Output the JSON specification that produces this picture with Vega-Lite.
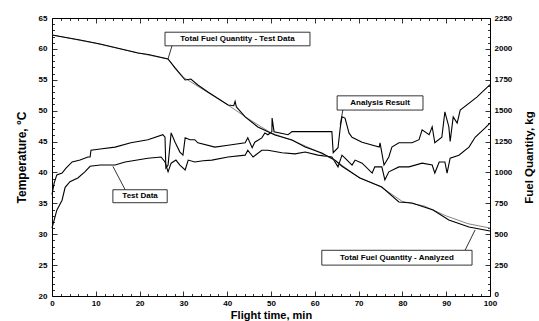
{
  "$schema": "https://vega.github.io/schema/vega-lite/v6.json",
  "width": 438,
  "height": 278,
  "autosize": "none",
  "padding": {"left": 52, "top": 18, "right": 49, "bottom": 25},
  "background": "white",
  "config": {
    "view": {"stroke": "black", "strokeWidth": 1},
    "axis": {
      "domain": false,
      "grid": false,
      "tickColor": "black",
      "tickWidth": 0.8,
      "labelColor": "black",
      "titleColor": "black",
      "labelFont": "Liberation Sans",
      "titleFont": "Liberation Sans",
      "labelFontWeight": "bold",
      "titleFontWeight": "bold",
      "labelFontSize": 8,
      "titleFontSize": 12,
      "labelOverlap": false,
      "labelFlush": false
    }
  },
  "datasets": {
    "temp": [
      {"series": "Test Data", "t": 0, "v": 31.0}, {"series": "Test Data", "t": 1.1, "v": 33.9}, {"series": "Test Data", "t": 2.3, "v": 35.5}, {"series": "Test Data", "t": 3.0, "v": 37.6}, {"series": "Test Data", "t": 4.1, "v": 38.5}, {"series": "Test Data", "t": 5.9, "v": 39.1}, {"series": "Test Data", "t": 7.5, "v": 40.1}, {"series": "Test Data", "t": 8.7, "v": 41.0}, {"series": "Test Data", "t": 11.0, "v": 41.2}, {"series": "Test Data", "t": 14.4, "v": 41.2}, {"series": "Test Data", "t": 16.7, "v": 41.7}, {"series": "Test Data", "t": 21.9, "v": 42.3}, {"series": "Test Data", "t": 24.9, "v": 42.5}, {"series": "Test Data", "t": 25.8, "v": 41.7}, {"series": "Test Data", "t": 26.5, "v": 40.1}, {"series": "Test Data", "t": 27.2, "v": 41.5}, {"series": "Test Data", "t": 28.3, "v": 42.0}, {"series": "Test Data", "t": 29.2, "v": 41.2}, {"series": "Test Data", "t": 30.4, "v": 40.4}, {"series": "Test Data", "t": 31.1, "v": 42.0}, {"series": "Test Data", "t": 32.6, "v": 41.7}, {"series": "Test Data", "t": 34.5, "v": 41.9}, {"series": "Test Data", "t": 36.5, "v": 42.0}, {"series": "Test Data", "t": 40.2, "v": 42.5}, {"series": "Test Data", "t": 44.1, "v": 42.8}, {"series": "Test Data", "t": 44.7, "v": 43.6}, {"series": "Test Data", "t": 45.9, "v": 42.5}, {"series": "Test Data", "t": 47.9, "v": 43.6}, {"series": "Test Data", "t": 49.3, "v": 43.6}, {"series": "Test Data", "t": 52.5, "v": 43.2}, {"series": "Test Data", "t": 55.5, "v": 43.0}, {"series": "Test Data", "t": 57.8, "v": 43.3}, {"series": "Test Data", "t": 60.7, "v": 42.8}, {"series": "Test Data", "t": 63.9, "v": 42.5}, {"series": "Test Data", "t": 65.3, "v": 40.9}, {"series": "Test Data", "t": 66.2, "v": 42.8}, {"series": "Test Data", "t": 66.9, "v": 42.3}, {"series": "Test Data", "t": 68.5, "v": 41.2}, {"series": "Test Data", "t": 69.2, "v": 42.0}, {"series": "Test Data", "t": 70.8, "v": 41.5}, {"series": "Test Data", "t": 73.1, "v": 39.9}, {"series": "Test Data", "t": 73.7, "v": 40.9}, {"series": "Test Data", "t": 75.3, "v": 40.9}, {"series": "Test Data", "t": 76.0, "v": 38.8}, {"series": "Test Data", "t": 76.9, "v": 40.1}, {"series": "Test Data", "t": 79.2, "v": 40.9}, {"series": "Test Data", "t": 81.5, "v": 40.9}, {"series": "Test Data", "t": 84.5, "v": 41.5}, {"series": "Test Data", "t": 86.8, "v": 41.2}, {"series": "Test Data", "t": 87.4, "v": 39.9}, {"series": "Test Data", "t": 88.4, "v": 41.7}, {"series": "Test Data", "t": 89.7, "v": 41.7}, {"series": "Test Data", "t": 90.2, "v": 39.9}, {"series": "Test Data", "t": 90.9, "v": 42.3}, {"series": "Test Data", "t": 92.9, "v": 42.8}, {"series": "Test Data", "t": 95.2, "v": 44.1}, {"series": "Test Data", "t": 96.6, "v": 45.7}, {"series": "Test Data", "t": 98.9, "v": 47.2}, {"series": "Test Data", "t": 100, "v": 48.0},
      {"series": "Analysis Result", "t": 0, "v": 36.4}, {"series": "Analysis Result", "t": 0.5, "v": 38.3}, {"series": "Analysis Result", "t": 1.1, "v": 39.6}, {"series": "Analysis Result", "t": 2.3, "v": 39.9}, {"series": "Analysis Result", "t": 3.2, "v": 40.7}, {"series": "Analysis Result", "t": 4.6, "v": 41.7}, {"series": "Analysis Result", "t": 6.4, "v": 42.0}, {"series": "Analysis Result", "t": 8.2, "v": 42.5}, {"series": "Analysis Result", "t": 8.7, "v": 42.5}, {"series": "Analysis Result", "t": 8.9, "v": 43.6}, {"series": "Analysis Result", "t": 11.0, "v": 43.8}, {"series": "Analysis Result", "t": 14.4, "v": 44.1}, {"series": "Analysis Result", "t": 18.0, "v": 44.8}, {"series": "Analysis Result", "t": 21.9, "v": 45.3}, {"series": "Analysis Result", "t": 25.3, "v": 46.1}, {"series": "Analysis Result", "t": 25.8, "v": 45.7}, {"series": "Analysis Result", "t": 26.0, "v": 40.7}, {"series": "Analysis Result", "t": 26.5, "v": 41.2}, {"series": "Analysis Result", "t": 27.2, "v": 46.4}, {"series": "Analysis Result", "t": 28.1, "v": 44.9}, {"series": "Analysis Result", "t": 29.2, "v": 43.3}, {"series": "Analysis Result", "t": 29.9, "v": 42.8}, {"series": "Analysis Result", "t": 30.4, "v": 45.6}, {"series": "Analysis Result", "t": 31.5, "v": 45.3}, {"series": "Analysis Result", "t": 32.6, "v": 45.3}, {"series": "Analysis Result", "t": 33.3, "v": 44.8}, {"series": "Analysis Result", "t": 37.2, "v": 44.1}, {"series": "Analysis Result", "t": 40.2, "v": 44.4}, {"series": "Analysis Result", "t": 44.1, "v": 44.8}, {"series": "Analysis Result", "t": 44.7, "v": 45.6}, {"series": "Analysis Result", "t": 45.7, "v": 44.0}, {"series": "Analysis Result", "t": 46.3, "v": 44.9}, {"series": "Analysis Result", "t": 47.9, "v": 45.6}, {"series": "Analysis Result", "t": 48.6, "v": 46.4}, {"series": "Analysis Result", "t": 49.3, "v": 46.1}, {"series": "Analysis Result", "t": 50.2, "v": 46.6}, {"series": "Analysis Result", "t": 50.25, "v": 48.8}, {"series": "Analysis Result", "t": 50.7, "v": 46.6}, {"series": "Analysis Result", "t": 53.9, "v": 46.1}, {"series": "Analysis Result", "t": 54.8, "v": 46.6}, {"series": "Analysis Result", "t": 63.9, "v": 46.6}, {"series": "Analysis Result", "t": 64.2, "v": 43.2}, {"series": "Analysis Result", "t": 65.3, "v": 44.0}, {"series": "Analysis Result", "t": 65.8, "v": 47.2}, {"series": "Analysis Result", "t": 66.2, "v": 49.0}, {"series": "Analysis Result", "t": 66.9, "v": 48.8}, {"series": "Analysis Result", "t": 67.8, "v": 46.4}, {"series": "Analysis Result", "t": 68.5, "v": 45.7}, {"series": "Analysis Result", "t": 70.8, "v": 44.9}, {"series": "Analysis Result", "t": 74.7, "v": 44.1}, {"series": "Analysis Result", "t": 74.9, "v": 44.8}, {"series": "Analysis Result", "t": 75.8, "v": 41.2}, {"series": "Analysis Result", "t": 76.9, "v": 42.5}, {"series": "Analysis Result", "t": 77.6, "v": 44.1}, {"series": "Analysis Result", "t": 79.2, "v": 44.8}, {"series": "Analysis Result", "t": 82.2, "v": 44.8}, {"series": "Analysis Result", "t": 83.8, "v": 45.3}, {"series": "Analysis Result", "t": 84.5, "v": 46.9}, {"series": "Analysis Result", "t": 86.1, "v": 46.1}, {"series": "Analysis Result", "t": 86.8, "v": 47.4}, {"series": "Analysis Result", "t": 87.4, "v": 44.8}, {"series": "Analysis Result", "t": 89.0, "v": 45.7}, {"series": "Analysis Result", "t": 89.7, "v": 49.8}, {"series": "Analysis Result", "t": 90.6, "v": 47.4}, {"series": "Analysis Result", "t": 90.9, "v": 45.0}, {"series": "Analysis Result", "t": 91.6, "v": 49.0}, {"series": "Analysis Result", "t": 92.5, "v": 48.0}, {"series": "Analysis Result", "t": 93.2, "v": 50.1}, {"series": "Analysis Result", "t": 97.0, "v": 52.2}, {"series": "Analysis Result", "t": 100, "v": 54.2}
    ],
    "fuelTest": [
      {"t": 0, "kg": 2113}, {"t": 6.4, "kg": 2072}, {"t": 11, "kg": 2040}, {"t": 19.6, "kg": 1967}, {"t": 22, "kg": 1955}, {"t": 26.5, "kg": 1918}, {"t": 28.1, "kg": 1845}, {"t": 30.4, "kg": 1748}, {"t": 31.7, "kg": 1756}, {"t": 33.3, "kg": 1708}, {"t": 35.6, "kg": 1651}, {"t": 40.2, "kg": 1546}, {"t": 41.5, "kg": 1540}, {"t": 41.8, "kg": 1575}, {"t": 42.1, "kg": 1530}, {"t": 44.1, "kg": 1449}, {"t": 47.0, "kg": 1368}, {"t": 50.9, "kg": 1303}, {"t": 54.8, "kg": 1263}, {"t": 57.8, "kg": 1206}, {"t": 61.6, "kg": 1157}, {"t": 64.6, "kg": 1100}, {"t": 66.2, "kg": 1050}, {"t": 70.3, "kg": 955}, {"t": 75.3, "kg": 882}, {"t": 79.2, "kg": 761}, {"t": 82.2, "kg": 753}, {"t": 87.0, "kg": 696}, {"t": 90.6, "kg": 615}, {"t": 95.2, "kg": 558}, {"t": 100, "kg": 526}
    ],
    "fuelAnalyzed": [
      {"t": 0, "kg": 2113}, {"t": 10, "kg": 2045}, {"t": 20, "kg": 1965}, {"t": 26.5, "kg": 1918}, {"t": 30, "kg": 1770}, {"t": 35, "kg": 1660}, {"t": 40, "kg": 1550}, {"t": 45, "kg": 1430}, {"t": 50, "kg": 1320}, {"t": 55, "kg": 1258}, {"t": 60, "kg": 1180}, {"t": 65, "kg": 1090}, {"t": 70, "kg": 960}, {"t": 75, "kg": 885}, {"t": 80, "kg": 765}, {"t": 85, "kg": 728}, {"t": 90, "kg": 648}, {"t": 95, "kg": 585}, {"t": 100, "kg": 550}
    ],
    "notes": [
      {"label": "Total Fuel Quantity - Test Data", "x1": 25.8, "x2": 58.9, "y1": 60.5, "y2": 62.7, "cx": 42.35, "cy": 61.6, "lx1": 27.4, "ly1": 60.5, "lx2": 26.5, "ly2": 58.4},
      {"label": "Analysis Result", "x1": 65.1, "x2": 84.7, "y1": 50.1, "y2": 52.4, "cx": 74.9, "cy": 51.25, "lx1": 66.4, "ly1": 50.1, "lx2": 65.8, "ly2": 47.7},
      {"label": "Test Data", "x1": 13.9, "x2": 26.3, "y1": 35.1, "y2": 37.2, "cx": 20.1, "cy": 36.15, "lx1": 16.7, "ly1": 37.2, "lx2": 13.9, "ly2": 41.0},
      {"label": "Total Fuel Quantity - Analyzed", "x1": 61.6, "x2": 95.9, "y1": 25.0, "y2": 27.4, "cx": 78.75, "cy": 26.2, "lx1": 94.3, "ly1": 27.4, "lx2": 96.6, "ly2": 30.7}
    ]
  },
  "layer": [
    {
      "data": {"name": "temp"},
      "mark": {"type": "line", "color": "black", "strokeWidth": 1.1},
      "encoding": {
        "x": {
          "field": "t", "type": "quantitative",
          "scale": {"domain": [0, 100], "nice": false},
          "axis": {
            "orient": "bottom",
            "title": "Flight time, min",
            "titleFontSize": 11,
            "titlePadding": 0,
            "labelPadding": 8,
            "values": [0,2,4,6,8,10,12,14,16,18,20,22,24,26,28,30,32,34,36,38,40,42,44,46,48,50,52,54,56,58,60,62,64,66,68,70,72,74,76,78,80,82,84,86,88,90,92,94,96,98,100],
            "labelExpr": "datum.value % 10 === 0 ? datum.label : ''",
            "tickSize": {"condition": {"test": "datum.value % 10 === 0", "value": -5}, "value": -2.5}
          }
        },
        "y": {
          "field": "v", "type": "quantitative",
          "scale": {"domain": [20, 65], "nice": false},
          "axis": {
            "orient": "left",
            "title": "Temperature, °C",
            "titlePadding": 10,
            "labelPadding": 10,
            "values": [20,21,22,23,24,25,26,27,28,29,30,31,32,33,34,35,36,37,38,39,40,41,42,43,44,45,46,47,48,49,50,51,52,53,54,55,56,57,58,59,60,61,62,63,64,65],
            "labelExpr": "datum.value % 5 === 0 ? datum.label : ''",
            "tickSize": {"condition": {"test": "datum.value % 5 === 0", "value": -5}, "value": -2.5}
          }
        },
        "detail": {"field": "series"}
      }
    },
    {
      "data": {"name": "fuelAnalyzed"},
      "mark": {"type": "line", "color": "#777777", "strokeWidth": 0.9},
      "encoding": {
        "x": {"field": "t", "type": "quantitative", "scale": {"domain": [0, 100], "nice": false}, "axis": null},
        "y": {"field": "kg", "type": "quantitative", "scale": {"domain": [0, 2250], "nice": false}, "axis": null}
      }
    },
    {
      "data": {"name": "fuelTest"},
      "mark": {"type": "line", "color": "black", "strokeWidth": 1.1},
      "encoding": {
        "x": {"field": "t", "type": "quantitative", "scale": {"domain": [0, 100], "nice": false}, "axis": null},
        "y": {
          "field": "kg", "type": "quantitative",
          "scale": {"domain": [0, 2250], "nice": false},
          "axis": {
            "orient": "right",
            "title": "Fuel Quantity, kg",
            "titleAngle": 270,
            "titleFontSize": 11.5,
            "titlePadding": 23,
            "labelPadding": 9,
            "labelBaseline": {"condition": {"test": "datum.value === 0", "value": "alphabetic"}, "value": "middle"},
            "values": [0,50,100,150,200,250,300,350,400,450,500,550,600,650,700,750,800,850,900,950,1000,1050,1100,1150,1200,1250,1300,1350,1400,1450,1500,1550,1600,1650,1700,1750,1800,1850,1900,1950,2000,2050,2100,2150,2200,2250],
            "labelExpr": "datum.value % 250 === 0 ? datum.label : ''",
            "format": "d",
            "tickSize": {"condition": {"test": "datum.value % 250 === 0", "value": -5}, "value": -2.5}
          }
        }
      }
    },
    {
      "data": {"name": "notes"},
      "mark": {"type": "rule", "color": "black", "strokeWidth": 0.8},
      "encoding": {
        "x": {"field": "lx1", "type": "quantitative", "scale": {"domain": [0, 100], "nice": false},
          "axis": {"orient": "top", "title": null, "labels": false,
            "values": [0,2,4,6,8,10,12,14,16,18,20,22,24,26,28,30,32,34,36,38,40,42,44,46,48,50,52,54,56,58,60,62,64,66,68,70,72,74,76,78,80,82,84,86,88,90,92,94,96,98,100],
            "tickSize": {"condition": {"test": "datum.value % 10 === 0", "value": -5}, "value": -2.5}}},
        "x2": {"field": "lx2"},
        "y": {"field": "ly1", "type": "quantitative", "scale": {"domain": [20, 65], "nice": false}, "axis": null},
        "y2": {"field": "ly2"}
      }
    },
    {
      "data": {"name": "notes"},
      "mark": {"type": "rect", "fill": "white", "stroke": "black", "strokeWidth": 0.8},
      "encoding": {
        "x": {"field": "x1", "type": "quantitative", "scale": {"domain": [0, 100], "nice": false}, "axis": null},
        "x2": {"field": "x2"},
        "y": {"field": "y1", "type": "quantitative", "scale": {"domain": [20, 65], "nice": false}, "axis": null},
        "y2": {"field": "y2"}
      }
    },
    {
      "data": {"name": "notes"},
      "mark": {"type": "text", "font": "Liberation Sans", "fontWeight": "bold", "fontSize": 8, "color": "black", "align": "center", "baseline": "middle"},
      "encoding": {
        "x": {"field": "cx", "type": "quantitative", "scale": {"domain": [0, 100], "nice": false}, "axis": null},
        "y": {"field": "cy", "type": "quantitative", "scale": {"domain": [20, 65], "nice": false}, "axis": null},
        "text": {"field": "label"}
      }
    }
  ],
  "resolve": {"scale": {"y": "independent"}, "axis": {"x": "independent", "y": "independent"}}
}
